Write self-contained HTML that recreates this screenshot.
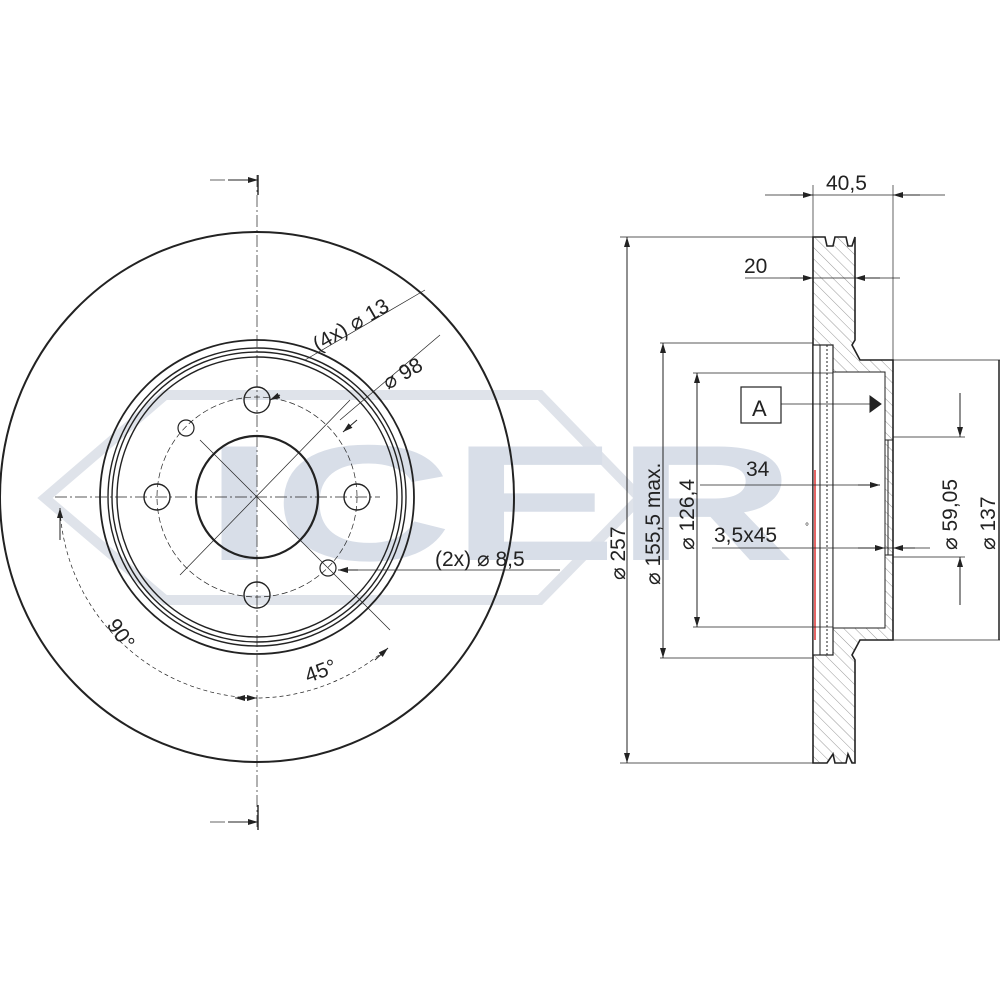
<!DOCTYPE html>
<html><head><meta charset="utf-8"><style>
html,body{margin:0;padding:0;background:#fff;}
svg{display:block;}
text{font-family:"Liberation Sans",sans-serif;fill:#222;}
</style></head><body>
<svg width="1000" height="1000" viewBox="0 0 1000 1000" xmlns="http://www.w3.org/2000/svg">
<defs>
<marker id="a" viewBox="0 0 10 6" refX="10" refY="3" markerWidth="10" markerHeight="6" orient="auto-start-reverse" markerUnits="userSpaceOnUse"><path d="M0,0 L10,3 L0,6z" fill="#222"/></marker>
<pattern id="h" width="8" height="8" patternUnits="userSpaceOnUse" patternTransform="rotate(-45)"><line x1="0" y1="0" x2="0" y2="8" stroke="#999" stroke-width="1"/></pattern>
</defs>
<!-- watermark -->
<polygon points="45,498 165,395 540,395 640,498 540,600 165,600" fill="none" stroke="#dfe3ea" stroke-width="10"/>
<text x="205" y="560" font-size="165" font-weight="bold" style="fill:#d8dee8" textLength="590" lengthAdjust="spacingAndGlyphs">ICER</text>

<g fill="none" stroke="#222">
<!-- left view -->
<ellipse cx="257" cy="497" rx="257" ry="265" stroke-width="2"/>
<circle cx="257" cy="497" r="157" stroke-width="1.8"/>
<circle cx="257" cy="497" r="149" stroke-width="1.4"/>
<circle cx="257" cy="497" r="145" stroke-width="1.4"/>
<circle cx="257" cy="497" r="140" stroke-width="1.4"/>
<circle cx="257" cy="497" r="100" stroke-width="0.7" stroke-dasharray="6,3"/>
<circle cx="257" cy="497" r="61" stroke-width="2.2"/>
<circle cx="257" cy="400" r="13" stroke-width="1.4"/>
<circle cx="257" cy="595" r="13" stroke-width="1.4"/>
<circle cx="157" cy="497" r="13" stroke-width="1.4"/>
<circle cx="357" cy="497" r="13" stroke-width="1.4"/>
<circle cx="186" cy="428" r="8" stroke-width="1.2"/>
<circle cx="328" cy="568" r="8" stroke-width="1.2"/>
<g stroke-width="0.7">
<line x1="257" y1="175" x2="257" y2="830" stroke-dasharray="12,3,2,3"/>
<line x1="55" y1="497" x2="380" y2="497" stroke-dasharray="12,3,2,3"/>
<line x1="180" y1="575" x2="350" y2="400"/>
<line x1="200" y1="440" x2="390" y2="630"/>
<line x1="305" y1="360" x2="425" y2="290"/>
<line x1="340" y1="420" x2="440" y2="335"/>
<line x1="345" y1="570" x2="560" y2="570"/>
<path d="M60,510 A200,200 0 0 0 257,698 A200,200 0 0 0 385,650" stroke-dasharray="4,3"/>
</g>
<line x1="228" y1="180" x2="258" y2="180" stroke-width="1" marker-end="url(#a)"/>
<line x1="210" y1="180" x2="225" y2="180" stroke-width="0.7"/>
<line x1="228" y1="822" x2="258" y2="822" stroke-width="1" marker-end="url(#a)"/>
<line x1="210" y1="822" x2="225" y2="822" stroke-width="0.7"/>
<line x1="258" y1="175" x2="258" y2="195" stroke-width="1.4"/>
<line x1="258" y1="805" x2="258" y2="830" stroke-width="1.4"/>
<line x1="60" y1="540" x2="60" y2="508" stroke-width="1" marker-end="url(#a)"/>
<line x1="235" y1="698" x2="257" y2="698" stroke-width="1" marker-start="url(#a)" marker-end="url(#a)"/>
<line x1="375" y1="660" x2="388" y2="648" stroke-width="1" marker-end="url(#a)"/>
<line x1="280" y1="395" x2="270" y2="400" stroke-width="1" marker-end="url(#a)"/>
<line x1="357" y1="420" x2="343" y2="432" stroke-width="1" marker-end="url(#a)"/>
<line x1="358" y1="570" x2="338" y2="570" stroke-width="1" marker-end="url(#a)"/>

<!-- right section -->
<path d="M813,237 L825,237 L827,246 L833,246 L835,237 L846,237 L848,246 L852,246 L855,237 L855,340 L852,345 L860,360 L893,360 L893,640 L860,640 L852,655 L855,660 L855,763 L852,763 L848,754 L846,763 L835,763 L833,754 L827,763 L813,763 Z" fill="url(#h)" stroke-width="1.6"/>
<rect x="813" y="345" width="20" height="310" fill="#fff" stroke-width="1.2"/>
<line x1="820" y1="345" x2="820" y2="655" stroke-width="1"/>
<line x1="827" y1="345" x2="827" y2="655" stroke-width="1" stroke-dasharray="2,2"/>
<rect x="833" y="372" width="52" height="256" fill="#fff" stroke-width="1"/>
<line x1="885" y1="440" x2="893" y2="440" stroke-width="1"/>
<line x1="885" y1="555" x2="893" y2="555" stroke-width="1"/>
<line x1="888" y1="440" x2="888" y2="555" stroke-width="1"/>
<line x1="815" y1="470" x2="815" y2="640" stroke="#d33" stroke-width="1.5"/>
<g stroke-width="0.7">
<line x1="620" y1="237" x2="813" y2="237"/>
<line x1="620" y1="763" x2="813" y2="763"/>
<line x1="660" y1="343" x2="813" y2="343"/>
<line x1="660" y1="658" x2="813" y2="658"/>
<line x1="693" y1="373" x2="833" y2="373"/>
<line x1="693" y1="627" x2="833" y2="627"/>
<line x1="813" y1="185" x2="813" y2="237"/>
<line x1="893" y1="185" x2="893" y2="360"/>
<line x1="765" y1="195" x2="945" y2="195"/>
<line x1="745" y1="278" x2="900" y2="278"/>
<line x1="893" y1="360" x2="1000" y2="360"/>
<line x1="893" y1="640" x2="1000" y2="640"/>
<line x1="893" y1="437" x2="965" y2="437"/>
<line x1="893" y1="557" x2="965" y2="557"/>
<line x1="700" y1="485" x2="880" y2="485"/>
<line x1="712" y1="548" x2="930" y2="548"/>
</g>
<line x1="627" y1="237" x2="627" y2="763" stroke-width="1" marker-start="url(#a)" marker-end="url(#a)"/>
<line x1="663" y1="343" x2="663" y2="658" stroke-width="1" marker-start="url(#a)" marker-end="url(#a)"/>
<line x1="697" y1="373" x2="697" y2="627" stroke-width="1" marker-start="url(#a)" marker-end="url(#a)"/>
<line x1="790" y1="195" x2="813" y2="195" stroke-width="1" marker-end="url(#a)"/>
<line x1="920" y1="195" x2="893" y2="195" stroke-width="1" marker-end="url(#a)"/>
<line x1="790" y1="278" x2="813" y2="278" stroke-width="1" marker-end="url(#a)"/>
<line x1="880" y1="278" x2="855" y2="278" stroke-width="1" marker-end="url(#a)"/>
<line x1="858" y1="485" x2="880" y2="485" stroke-width="1" marker-end="url(#a)"/>
<line x1="858" y1="548" x2="885" y2="548" stroke-width="1" marker-end="url(#a)"/>
<line x1="915" y1="548" x2="893" y2="548" stroke-width="1" marker-end="url(#a)"/>
<line x1="960" y1="393" x2="960" y2="437" stroke-width="1" marker-end="url(#a)"/>
<line x1="960" y1="605" x2="960" y2="557" stroke-width="1" marker-end="url(#a)"/>
<line x1="999" y1="360" x2="999" y2="640" stroke-width="1.5"/>
<rect x="741" y="387" width="40" height="36" fill="#fff" stroke-width="1.2"/>
<line x1="781" y1="404" x2="870" y2="404" stroke-width="0.8"/>
<path d="M870,396 L881,404 L870,412 Z" fill="#222"/>
</g>

<!-- labels -->
<text x="826" y="190" font-size="21">40,5</text>
<text x="744" y="273" font-size="21">20</text>
<text x="752" y="416" font-size="22">A</text>
<text x="746" y="476" font-size="21">34</text>
<text x="714" y="542" font-size="21">3,5x45</text>
<text x="805" y="530" font-size="10">°</text>
<text transform="translate(625,580) rotate(-90)" font-size="21">⌀ 257</text>
<text transform="translate(660,585) rotate(-90)" font-size="21">⌀ 155,5 max.</text>
<text transform="translate(694,550) rotate(-90)" font-size="21">⌀ 126,4</text>
<text transform="translate(957,550) rotate(-90)" font-size="21">⌀ 59,05</text>
<text transform="translate(995,550) rotate(-90)" font-size="21">⌀ 137</text>
<text transform="translate(318,352) rotate(-30)" font-size="21">(4x) ⌀ 13</text>
<text transform="translate(388,390) rotate(-30)" font-size="21">⌀ 98</text>
<text x="435" y="566" font-size="21">(2x) ⌀ 8,5</text>
<text transform="translate(106,625) rotate(55)" font-size="21">90°</text>
<text transform="translate(308,683) rotate(-20)" font-size="21">45°</text>
</svg>
</body></html>
